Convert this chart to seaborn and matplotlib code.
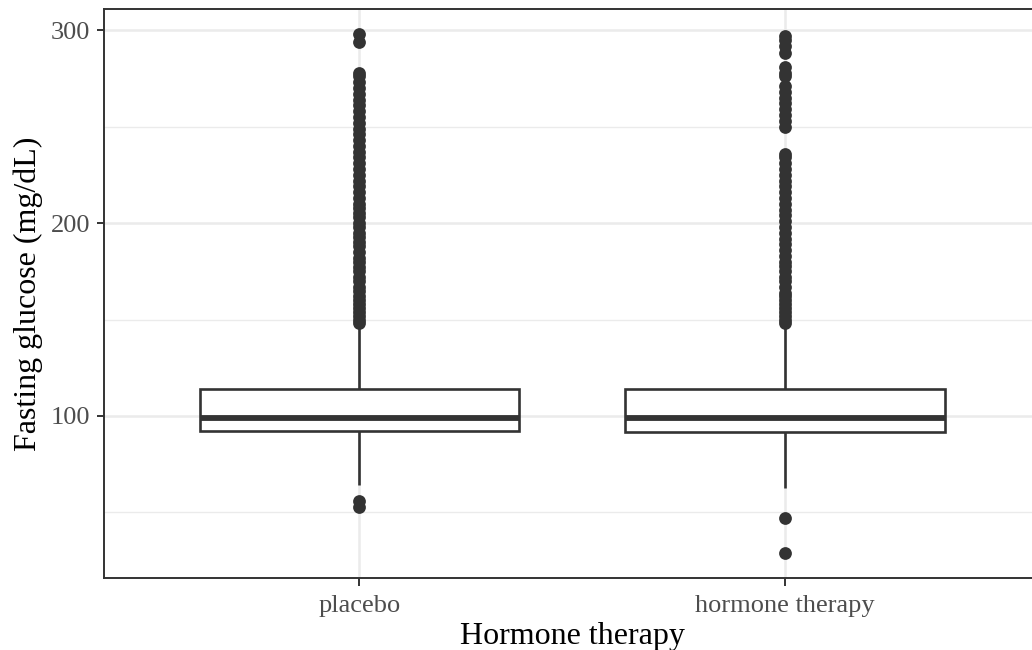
import numpy as np
import pandas as pd
import matplotlib
matplotlib.use("Agg")
import matplotlib.pyplot as plt
import seaborn as sns

# ---- data ----
categories = ["placebo", "hormone therapy"]
q1 = [92.2, 91.5]
median = [99.1, 99.1]
q3 = [113.8, 113.8]
whisker_low = [64.2, 62.6]
whisker_high = [147.0, 147.0]

placebo_outliers = [53, 56,
                    148, 150, 152, 154, 156, 158, 160, 162, 165, 167, 170, 172, 175,
                    177, 180, 182, 185, 188, 190, 193, 195, 198, 200, 203, 205, 208,
                    210, 213, 216, 219, 222, 225, 228, 231, 234, 237, 240, 243, 246,
                    249, 252, 255, 258, 261, 264, 267, 270, 273, 276, 278, 294, 298]
hormone_outliers = [29, 47,
                    148, 150, 152, 154, 156, 158, 160, 162, 164, 167, 170, 172, 175,
                    178, 180, 183, 186, 189, 192, 195, 198, 201, 204, 207, 210, 213,
                    216, 219, 222, 225, 228, 231, 234, 236, 250, 253, 256, 259, 262,
                    265, 268, 271, 276, 278, 281, 288, 292, 295, 297]

y_ticks = [100, 200, 300]
y_minor = [50, 150, 250]
x_label = "Hormone therapy"
y_label = "Fasting glucose (mg/dL)"

# ---- style ----
sns.set_theme(style="white")
plt.rcParams["font.family"] = ["Liberation Serif", "DejaVu Serif"]

dark = "#333333"
fig = plt.figure(figsize=(10.32, 6.5), dpi=100)
ax = fig.add_axes([0.1005, 0.1108, 0.9078, 0.8754])

# boxes
stats = []
for i, c in enumerate(categories):
    stats.append(dict(label=c, q1=q1[i], med=median[i], q3=q3[i],
                      whislo=whisker_low[i], whishi=whisker_high[i], fliers=[]))
ax.bxp(stats, positions=[0, 1], widths=0.75, showfliers=False, showcaps=False,
       patch_artist=True,
       boxprops=dict(facecolor="white", edgecolor=dark, linewidth=1.9),
       whiskerprops=dict(color=dark, linewidth=1.9, solid_capstyle="butt"),
       medianprops=dict(color=dark, linewidth=4.2, solid_capstyle="butt"),
       zorder=2)

# outliers
out_df = pd.DataFrame({
    "group": ["placebo"] * len(placebo_outliers) + ["hormone therapy"] * len(hormone_outliers),
    "value": placebo_outliers + hormone_outliers,
})
sns.stripplot(data=out_df, x="group", y="value", order=categories, jitter=False,
              color=dark, size=9.2, linewidth=0, ax=ax, zorder=3)

ax.set_xlim(-0.6, 1.6)
ax.set_ylim(16.0, 311.0)
ax.set_xticks([0, 1])
ax.set_xticklabels(categories)
ax.set_yticks(y_ticks)
ax.set_yticklabels([str(v) for v in y_ticks])
ax.set_yticks(y_minor, minor=True)

ax.grid(True, which="major", color="#EBEBEB", linewidth=1.8, zorder=0)
ax.grid(True, which="minor", axis="y", color="#EBEBEB", linewidth=1.0, zorder=0)
ax.set_axisbelow(True)

for s in ax.spines.values():
    s.set_color(dark)
    s.set_linewidth(1.4)

ax.tick_params(axis="both", which="major", direction="out", length=5.4, width=1.4,
               color=dark, labelcolor="#4D4D4D", labelsize=19, bottom=True, left=True)
ax.tick_params(axis="x", which="major", pad=6.5)
ax.tick_params(axis="y", which="major", pad=4.2)
ax.tick_params(axis="both", which="minor", length=0)

ax.set_xlabel(x_label, fontsize=23, color="black", labelpad=4)
ax.set_ylabel(y_label, fontsize=23, color="black", labelpad=6)

fig.savefig("out.png", dpi=100)
